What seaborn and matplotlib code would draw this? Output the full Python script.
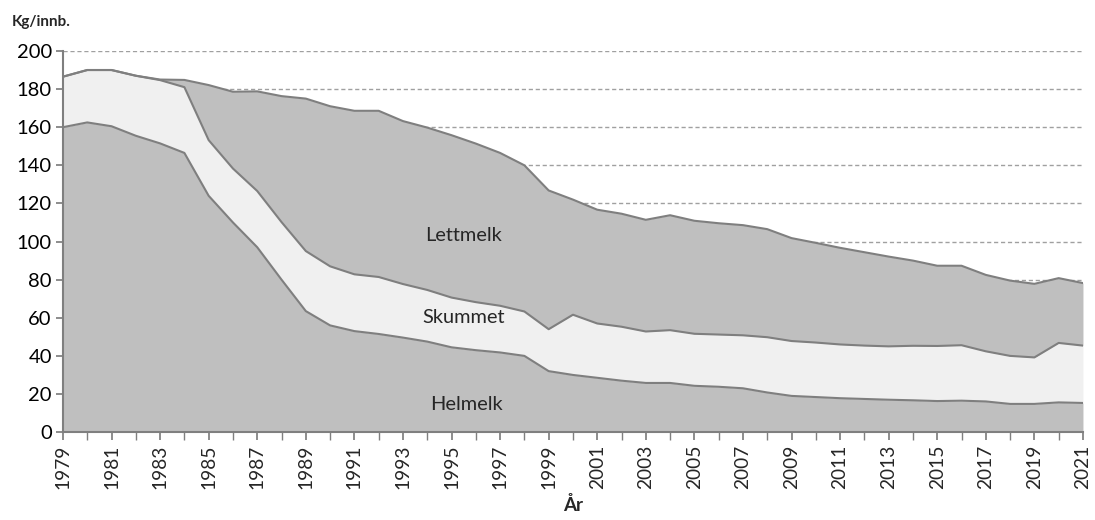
import matplotlib
matplotlib.use("Agg")
import matplotlib.pyplot as plt
import numpy as np
import pandas as pd
import seaborn as sns

# Forbruk av melk per innbygger (kg)
years = list(range(1979, 2022))
helmelk = [160, 162.5, 160.5, 155.5, 151.5, 146.5, 124, 110, 97, 80,
           63.5, 56, 53, 51.5, 49.6, 47.5, 44.5, 43, 41.8, 40,
           32, 30, 28.5, 27, 25.8, 25.8, 24.3, 23.8, 23, 20.8,
           19, 18.4, 17.8, 17.4, 17, 16.7, 16.3, 16.5, 16.1, 14.8,
           14.8, 15.6, 15.3]
skummet = [26.5, 27.5, 29.5, 31.5, 33.2, 34.5, 29.2, 28.3, 29.5, 30.2,
           31.5, 31, 29.8, 29.9, 28.1, 27.1, 26.1, 25.2, 24.5, 23.3,
           22, 31.6, 28.5, 28.3, 27, 27.7, 27.3, 27.4, 27.8, 29,
           28.8, 28.6, 28.2, 28, 28, 28.6, 28.9, 29.1, 26.3, 25.2,
           24.4, 31.2, 30.1]
lettmelk = [0, 0, 0, 0, 0.3, 3.8, 28.9, 40.3, 52.3, 66.1,
            80, 84, 85.8, 87.2, 85.5, 85.2, 85.2, 83.2, 80.2, 76.7,
            72.8, 60.4, 59.7, 59.3, 58.6, 60.3, 59.3, 58.4, 57.8, 56.7,
            54, 52.3, 50.7, 49, 47.1, 44.7, 42.1, 41.7, 40.1, 39.5,
            38.6, 34, 32.8]

df = pd.DataFrame({"år": years, "Helmelk": helmelk,
                   "Skummet": skummet, "Lettmelk": lettmelk})
df["lag1"] = df["Helmelk"]
df["lag2"] = df["lag1"] + df["Skummet"]
df["lag3"] = df["lag2"] + df["Lettmelk"]

sns.set_theme(style="white")
plt.rcParams["font.family"] = ["Lato", "DejaVu Sans"]

dark = "#bfbfbf"
light = "#f0f0f0"
edge = "#7f7f7f"

fig = plt.figure(figsize=(10.95, 5.2), dpi=100)
ax = fig.add_axes([0.0575, 0.169, 0.9315, 0.733])

for y in range(20, 201, 20):
    ax.axhline(y, color="#a0a0a0", lw=1, ls=(0, (3, 2)), zorder=0)

ax.fill_between(df["år"], 0, df["lag1"], color=dark, lw=0, zorder=1)
ax.fill_between(df["år"], df["lag1"], df["lag2"], color=light, lw=0, zorder=1)
ax.fill_between(df["år"], df["lag2"], df["lag3"], color=dark, lw=0, zorder=1)
for col in ["lag1", "lag2", "lag3"]:
    sns.lineplot(data=df, x="år", y=col, ax=ax, color=edge, lw=1.5, zorder=2)

ax.set_xlim(1979, 2021)
ax.set_ylim(0, 200)
ax.set_yticks(range(0, 201, 20))
ax.set_xticks(years, minor=True)
ax.set_xticks(years[::2])
ax.set_xticklabels([str(y) for y in years[::2]], rotation=90)
ax.tick_params(axis="y", labelsize=14.5, colors="black", length=5, color=edge, left=True, pad=3)
ax.tick_params(axis="x", which="both", labelsize=13.8, length=6, color=edge, bottom=True, pad=3)

for side in ["top", "right"]:
    ax.spines[side].set_visible(False)
for side in ["left", "bottom"]:
    ax.spines[side].set_color(edge)
    ax.spines[side].set_linewidth(1.5)
    ax.spines[side].set_zorder(3)

ax.set_xlabel("År", fontsize=13.5, fontweight="bold", labelpad=5)
ax.set_ylabel("")

fig.text(0.011, 0.957, "Kg/innb.", fontsize=11, fontweight="bold", va="center")

ax.text(1995.5, 103, "Lettmelk", fontsize=14.4, ha="center", va="center", zorder=4)
ax.text(1995.5, 60, "Skummet", fontsize=14.4, ha="center", va="center", zorder=4)
ax.text(1995.6, 14.3, "Helmelk", fontsize=14.4, ha="center", va="center", zorder=4)

fig.savefig("out.png", dpi=100)
